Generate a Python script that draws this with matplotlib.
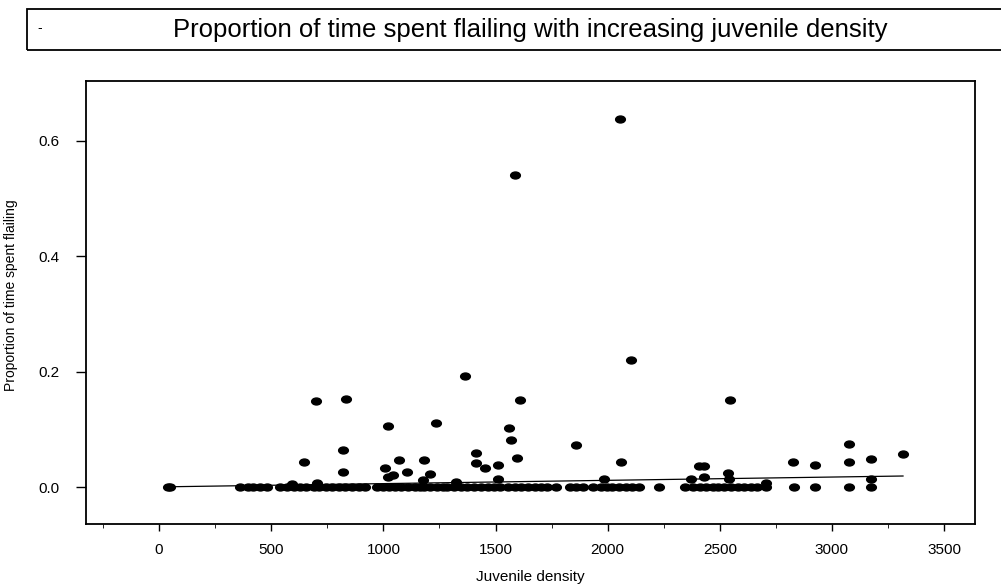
import numpy as np
import matplotlib
matplotlib.use('Agg')
import matplotlib.pyplot as plt
from matplotlib.path import Path
from matplotlib.patches import Rectangle

# 数据：点
# points clearly above zero
x_raised = [2054, 1585, 2103, 1366, 701, 835, 1022, 822, 647, 1071, 1009,
            1611, 1236, 1562, 1571, 1861, 1415, 1183, 1598, 1415, 1455, 1509,
            2058, 2406, 2544, 3076, 3317, 2826, 2924, 3076, 3174, 2430,
            822, 1107, 1045, 1022, 1210, 1178, 1509, 1982, 2370, 2428,
            2535, 2540, 3174, 705, 594, 1326, 2705]
y_raised = [0.638, 0.541, 0.220, 0.192, 0.149, 0.153, 0.106, 0.064, 0.043, 0.047, 0.033,
            0.151, 0.111, 0.102, 0.082, 0.073, 0.059, 0.047, 0.050, 0.042, 0.033, 0.038,
            0.043, 0.036, 0.151, 0.075, 0.057, 0.043, 0.038, 0.043, 0.049, 0.036,
            0.026, 0.026, 0.021, 0.017, 0.022, 0.012, 0.014, 0.014, 0.014, 0.017,
            0.024, 0.014, 0.014, 0.007, 0.005, 0.009, 0.007]

# points on the zero band
x_zero = [40, 50, 362, 395, 420, 450, 480, 540, 570, 600, 630, 655,
          690, 715, 745, 770, 800, 830, 860, 890, 920,
          970, 1000, 1025, 1050, 1080, 1110, 1140, 1165,
          1180, 1210, 1240, 1265, 1285, 1315, 1345, 1375, 1405, 1435, 1465, 1495, 1520,
          1555, 1585, 1615, 1645, 1675, 1705, 1730, 1768, 1830, 1860, 1890, 1935,
          1970, 1995, 2020, 2050, 2080, 2110, 2140, 2228, 2345, 2380, 2410,
          2440, 2470, 2490, 2520, 2550, 2580, 2610, 2640, 2665, 2705,
          2830, 2924, 3076, 3174]
y_zero = [0.0] * len(x_zero)

# fitted line
fit_x = [45, 3317]
fit_intercept = 0.0003
fit_slope = 5.7e-6

xticks = [0, 500, 1000, 1500, 2000, 2500, 3000, 3500]
yticks = [0.0, 0.2, 0.4, 0.6]

plt.rcParams['font.family'] = ['Liberation Sans', 'DejaVu Sans']

fig = plt.figure(figsize=(10.01, 5.84), dpi=100)
ax = fig.add_axes([86 / 1001, 1 - 524 / 584, (975 - 86) / 1001, (524 - 81) / 584])

# 椭圆形标记
circ = Path.unit_circle()
ellipse = Path(circ.vertices * np.array([1.4, 1.0]), circ.codes)

xs = np.array(x_zero + x_raised)
ys = np.array(y_zero + y_raised)
ax.plot(xs, ys, linestyle='none', marker=ellipse, markersize=7, color='black')

fx = np.array(fit_x)
ax.plot(fx, fit_intercept + fit_slope * fx, color='black', linewidth=0.9)

ax.set_xlim(-326, 3638)
ax.set_ylim(-0.064, 0.704)
ax.set_xticks(xticks)
ax.set_xticks(np.arange(-250, 3638, 500), minor=True)
ax.set_yticks(yticks)
ax.set_yticklabels(['0.0', '0.2', '0.4', '0.6'])
ax.tick_params(axis='both', labelsize=11, width=1, direction='out')
ax.tick_params(axis='y', length=7, pad=12)
ax.tick_params(axis='x', which='major', length=5, pad=9)
ax.tick_params(axis='x', which='minor', length=3)
for s in ax.spines.values():
    s.set_linewidth(1.3)

ax.set_xlabel('Juvenile density', fontsize=11, labelpad=9)
ax.set_ylabel('Proportion of time spent flailing', fontsize=10)
ax.yaxis.set_label_coords(-0.076, 0.517)

# 标题框
fig.patches.append(Rectangle((27 / 1001, 1 - 50 / 584), 1.0, 41 / 584,
                             transform=fig.transFigure, fill=False,
                             edgecolor='black', linewidth=1.3))
fig.text(40 / 1001, 1 - 28 / 584, '-', fontsize=10, ha='center', va='center')
fig.text(530 / 1001, 1 - 30 / 584,
         'Proportion of time spent flailing with increasing juvenile density',
         fontsize=18.5, ha='center', va='center')

plt.savefig('out.png', dpi=100)
